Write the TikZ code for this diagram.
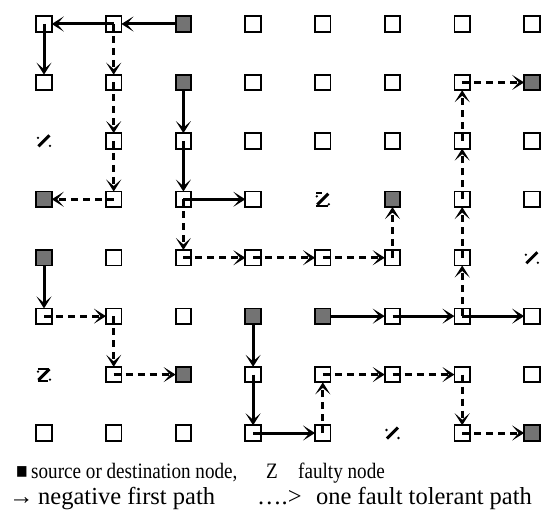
\documentclass[tikz,border=0pt]{standalone}
\usepackage{graphicx}
\usepackage{fontspec}
\setmainfont{Liberation Serif}
\usetikzlibrary{arrows.meta}

\begin{document}
\begin{tikzpicture}[x=1pt, y=-1pt,
  ecell/.style={draw=black, line width=1.8pt, minimum size=15.5pt, inner sep=0pt, outer sep=0pt},
  fcell/.style={ecell, fill=black!55},
  zcell/.style={minimum size=15.5pt, inner sep=0pt, outer sep=0pt,
    path picture={
      \coordinate (zc) at (path picture bounding box.center);
      \draw[line width=3pt] ([shift={(-5.5,5.5)}]zc) -- ([shift={(5.5,-5.5)}]zc);
      \fill ([shift={(-6,-3)}]zc) circle (1.3pt) ([shift={(6,5)}]zc) circle (1.3pt);
    }},
  lgone/.style={anchor=base west, inner sep=0pt, font=\fontsize{22}{25}\selectfont},
  lgtwo/.style={anchor=base west, inner sep=0pt, font=\fontsize{24.5}{28}\selectfont},
  tip/.style={-{Stealth[length=12pt, width=15pt, inset=6.5pt]}},
  npath/.style={tip, line width=3pt},
  fpath/.style={npath, dash pattern=on 7pt off 5pt},
]
\useasboundingbox (0,0) rectangle (544,516);

% mesh of 8 x 8 nodes: e = free, f = source/destination, z = faulty
\foreach \r/\row in {0/{e,e,f,e,e,e,e,e},
                     1/{e,e,f,e,e,e,e,f},
                     2/{z,e,e,e,e,e,e,e},
                     3/{f,e,e,e,z,f,e,e},
                     4/{f,e,e,e,e,e,e,z},
                     5/{e,e,e,f,f,e,e,e},
                     6/{z,e,f,e,e,e,e,e},
                     7/{e,e,e,e,e,z,e,f}}{
  \foreach \t [count=\c from 0] in \row {
    \node[\t cell] (n\c\r) at ({44+69.7*\c},{24+58.43*\r}) {};
  }
}

% bars completing the Z glyphs of two faulty nodes
\draw[line width=2pt] ([shift={(-6.5,-6)}]n06.center) -- ([shift={(5,-6)}]n06.center)
                      ([shift={(-6.5,6.5)}]n06.center) -- ([shift={(4,6.5)}]n06.center);
\draw[line width=2pt] ([shift={(-6.5,-6)}]n43.center) -- ([shift={(-1,-6)}]n43.center)
                      ([shift={(-6.5,6.5)}]n43.center) -- ([shift={(5,6.5)}]n43.center);

% negative first paths
\draw[npath] (n20) -- (n10);
\draw[npath] (n10.center) -- (n00);
\draw[npath] (n00.center) -- (n01);
\draw[npath] (n21) -- (n22);
\draw[npath] (n22.center) -- (n23);
\draw[npath] (n23.center) -- (n33);
\draw[npath] (n04) -- (n05);
\draw[npath] (n35) -- (n36);
\draw[npath] (n36.center) -- (n37);
\draw[npath] (n37.center) -- (n47);
\draw[npath] (n45) -- (n55);
\draw[npath] (n55.center) -- (n65);
\draw[npath] (n65.center) -- (n75);

% one fault tolerant paths
\draw[fpath] (n10.center) -- (n11);
\draw[fpath] (n11.center) -- (n12);
\draw[fpath] (n12.center) -- (n13);
\draw[fpath] (n13.center) -- (n03);
\draw[fpath] (n23.center) -- (n24);
\draw[fpath] (n24.center) -- (n34);
\draw[fpath] (n34.center) -- (n44);
\draw[fpath] (n44.center) -- (n54);
\draw[fpath] (n54.center) -- (n53);
\draw[fpath] (n05.center) -- (n15);
\draw[fpath] (n15.center) -- (n16);
\draw[fpath] (n16.center) -- (n26);
\draw[fpath] (n47.center) -- (n46);
\draw[fpath] (n46.center) -- (n56);
\draw[fpath] (n56.center) -- (n66);
\draw[fpath] (n66.center) -- (n67);
\draw[fpath] (n67.center) -- (n77);
\draw[fpath] (n65.center) -- (n64);
\draw[fpath] (n64.center) -- (n63);
\draw[fpath] (n63.center) -- (n62);
\draw[fpath] (n62.center) -- (n61);
\draw[fpath] (n61.center) -- (n71);

% legend (first line set slightly condensed)
\node[lgone] (lgA) at (16,478) {\scalebox{0.87}[1]{■}};
\node[lgone] (lgB) at (31,478) {\scalebox{0.87}[1]{source or destination node,}};
\node[lgone] (lgC) at (266,478) {\scalebox{0.87}[1]{Z}};
\node[lgone] (lgD) at (298,478) {\scalebox{0.87}[1]{faulty node}};
\node[lgtwo] (lgE) at (9,504) {→};
\node[lgtwo] (lgF) at (38,504) {negative first path};
\node[lgtwo] (lgG) at (257,504) {….>};
\node[lgtwo] (lgH) at (316,504) {one fault tolerant path};
\end{tikzpicture}
\end{document}
